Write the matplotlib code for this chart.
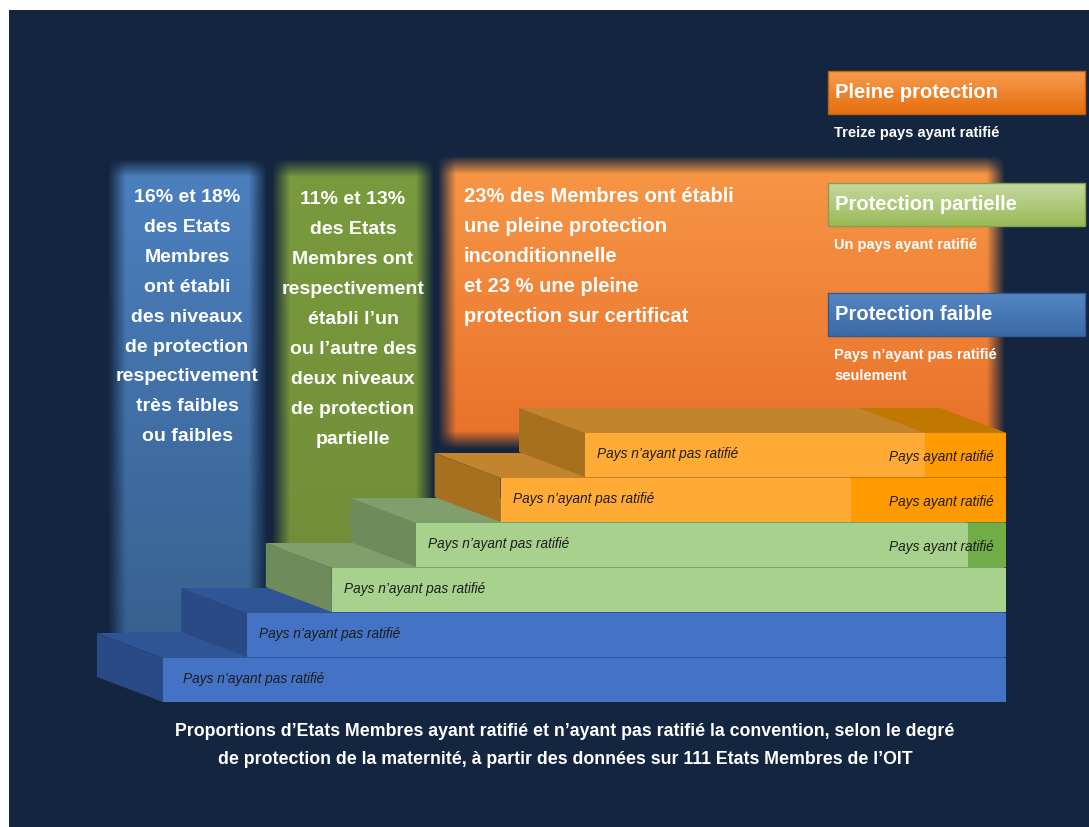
import numpy as np
import matplotlib
matplotlib.use("Agg")
import matplotlib.pyplot as plt
from matplotlib.patches import Polygon, Rectangle
from matplotlib import font_manager

W, H = 1089, 827

# Staircase, from the bottom step up: protection level and share of the step that ratified
step_level = ["faible", "faible", "partielle", "partielle", "pleine", "pleine"]
step_ratified = [0.0, 0.0, 0.0, 0.065, 0.306, 0.192]
label_not = "Pays n’ayant pas ratifié"
label_yes = "Pays ayant ratifié"

legend_levels = ["pleine", "partielle", "faible"]
legend_titles = ["Pleine protection", "Protection partielle", "Protection faible"]
legend_notes = ["Treize pays ayant ratifié", "Un pays ayant ratifié",
                "Pays n’ayant pas ratifié\nseulement"]

text_faible = ["16% et 18%", "des Etats", "Membres", "ont établi", "des niveaux",
               "de protection", "respectivement", "très faibles", "ou faibles"]
text_partielle = ["11% et 13%", "des Etats", "Membres ont", "respectivement",
                  "établi l’un", "ou l’autre des", "deux niveaux", "de protection",
                  "partielle"]
text_pleine = ["23% des Membres ont établi", "une pleine protection",
               "inconditionnelle", "et 23 % une pleine", "protection sur certificat"]

caption = ["Proportions d’Etats Membres ayant ratifié et n’ayant pas ratifié la convention, selon le degré",
           "de protection de la maternité, à partir des données sur 111 Etats Membres de l’OIT"]

NAVY = "#13253f"
faces = {
    "faible": dict(front="#4472c4", top="#2f5597", side="#294a84",
                   rat="#4472c4", rat_top="#2f5597",
                   col=("#4c80bf", "#37618f"), leg=("#5387c4", "#3c6aa6")),
    "partielle": dict(front="#a9d18e", top="#819f6d", side="#6e8b5c",
                      rat="#70ad47", rat_top="#5d8c3b",
                      col=("#7a9a3e", "#718f38"), leg=("#c4d89e", "#9bbb59")),
    "pleine": dict(front="#ffab36", top="#c2842c", side="#a6701f",
                   rat="#ff9a00", rat_top="#c07800",
                   col=("#f79646", "#e8722a"), leg=("#f89a4e", "#e6700f")),
}


def pick_font(name, fallback):
    try:
        font_manager.findfont(name, fallback_to_default=False)
        return name
    except Exception:
        return fallback


SANS = pick_font("Liberation Sans", "DejaVu Sans")
NARROW = pick_font("Liberation Sans Narrow", SANS)
narrow_ok = NARROW != SANS

fig = plt.figure(figsize=(W / 100, H / 100), dpi=100, facecolor="white")
ax = fig.add_axes([0, 0, 1, 1])
ax.set_xlim(0, W)
ax.set_ylim(H, 0)
ax.axis("off")

ax.add_patch(Rectangle((9, 10), W - 9, H - 10, facecolor=NAVY, edgecolor="none", zorder=0))


def glow_column(x0, x1, y0, y1, c_top, c_bot, pad=9):
    xs = np.arange(x0 - pad, x1 + pad) + 0.5
    ys = np.arange(y0 - pad, y1 + pad) + 0.5
    ax_ = np.clip((xs - (x0 - pad)) / (2 * pad), 0, 1) * np.clip(((x1 + pad) - xs) / (2 * pad), 0, 1)
    ay_ = np.clip((ys - (y0 - pad)) / (2 * pad), 0, 1) * np.clip(((y1 + pad) - ys) / (2 * pad), 0, 1)
    t = np.clip((ys - y0) / (y1 - y0), 0, 1)[:, None]
    top = np.array(matplotlib.colors.to_rgb(c_top))
    bot = np.array(matplotlib.colors.to_rgb(c_bot))
    rgb = top * (1 - t[..., None]) + bot * t[..., None]
    rgb = np.broadcast_to(rgb, (len(ys), len(xs), 3))
    alpha = (ay_[:, None] * ax_[None, :])[..., None]
    img = np.concatenate([rgb, alpha], axis=2)
    ax.imshow(img, extent=(x0 - pad, x1 + pad, y1 + pad, y0 - pad), origin="upper",
              aspect="auto", interpolation="bilinear", zorder=1)


# Background columns for each protection level
glow_column(117, 258, 168, 640, *faces["faible"]["col"])
glow_column(281, 425, 168, 560, *faces["partielle"]["col"])
glow_column(447, 996, 165, 440, *faces["pleine"]["col"])

bold = dict(family=SANS, weight="bold", color="white", zorder=3)
for i, line in enumerate(text_faible):
    ax.text(187, 198 + i * 29.8, line, ha="center", va="center", fontsize=14, **bold)
for i, line in enumerate(text_partielle):
    ax.text(353, 200 + i * 29.9, line, ha="center", va="center", fontsize=14, **bold)
for i, line in enumerate(text_pleine):
    ax.text(464, 197 + i * 29.8, line, ha="left", va="center", fontsize=14.5, **bold)

# Staircase: each step is a front face, a top face and a left side face
x_right = 1006
x_left0, run = 163, 84.4
y_bot0, rise, h = 702, 45, 44
dx, dy = -66, -25
lab_size = 12 if narrow_ok else 9.8
for k, (lvl, share) in enumerate(zip(step_level, step_ratified)):
    c = faces[lvl]
    fx = x_left0 + k * run
    yb = y_bot0 - k * rise
    yt = yb - h
    xr = x_right - share * (x_right - fx)
    ax.add_patch(Polygon([(fx, yt), (x_right, yt), (x_right + dx, yt + dy), (fx + dx, yt + dy)],
                         closed=True, facecolor=c["top"], edgecolor="none", zorder=4))
    if share > 0:
        ax.add_patch(Polygon([(xr, yt), (x_right, yt), (x_right + dx, yt + dy), (xr + dx, yt + dy)],
                             closed=True, facecolor=c["rat_top"], edgecolor="none", zorder=4))
    ax.add_patch(Polygon([(fx, yt), (fx, yb), (fx + dx, yb + dy), (fx + dx, yt + dy)],
                         closed=True, facecolor=c["side"], edgecolor="none", zorder=4))
    ax.add_patch(Rectangle((fx, yt), x_right - fx, h, facecolor=c["front"],
                           edgecolor="none", zorder=4))
    if share > 0:
        ax.add_patch(Rectangle((xr, yt), x_right - xr, h, facecolor=c["rat"],
                               edgecolor="none", zorder=4))
        ax.text(889, yt + h / 2 + 2, label_yes, ha="left", va="center", fontsize=lab_size,
                family=NARROW, style="italic", color="#1c1c1c", zorder=5)
    ax.text(fx + (20 if k == 0 else 12), yt + h / 2 - 1, label_not, ha="left", va="center",
            fontsize=lab_size, family=NARROW, style="italic", color="#1c1c1c", zorder=5)

# Legend boxes on the right
box_tops = [71, 183, 293]
for lvl, title, note, y0 in zip(legend_levels, legend_titles, legend_notes, box_tops):
    c_top, c_bot = faces[lvl]["leg"]
    grad = np.linspace(0, 1, 40)[:, None, None]
    img = np.array(matplotlib.colors.to_rgb(c_top)) * (1 - grad) + \
        np.array(matplotlib.colors.to_rgb(c_bot)) * grad
    img = np.repeat(img, 2, axis=1)
    ax.imshow(img, extent=(828, 1085, y0 + 43, y0), origin="upper", aspect="auto",
              interpolation="bilinear", zorder=6)
    ax.add_patch(Rectangle((828, y0), 257, 43, facecolor="none",
                           edgecolor=matplotlib.colors.to_hex(np.array(matplotlib.colors.to_rgb(c_bot)) * 0.85),
                           linewidth=1, zorder=7))
    ax.text(835, y0 + 21, title, ha="left", va="center", fontsize=14.5, **{**bold, "zorder": 8})
    for j, line in enumerate(note.split("\n")):
        ax.text(834, y0 + 62 + j * 21, line, ha="left", va="center", fontsize=10.5,
                **{**bold, "zorder": 8})

ax.set_xlim(0, W)
ax.set_ylim(H, 0)

# Caption under the staircase, scaled to its line width
cap_family = NARROW if narrow_ok else SANS
cap1 = ax.text(565, 731, caption[0], ha="center", va="center", fontsize=13,
               family=cap_family, weight="bold", color="white", zorder=8)
cap2 = ax.text(565, 759, caption[1], ha="center", va="center", fontsize=13,
               family=cap_family, weight="bold", color="white", zorder=8)
renderer = fig.canvas.get_renderer()
scale = 775 / cap1.get_window_extent(renderer).width
cap1.set_fontsize(13 * scale)
cap2.set_fontsize(13 * scale)

fig.savefig("out.png", dpi=100, facecolor=fig.get_facecolor())
